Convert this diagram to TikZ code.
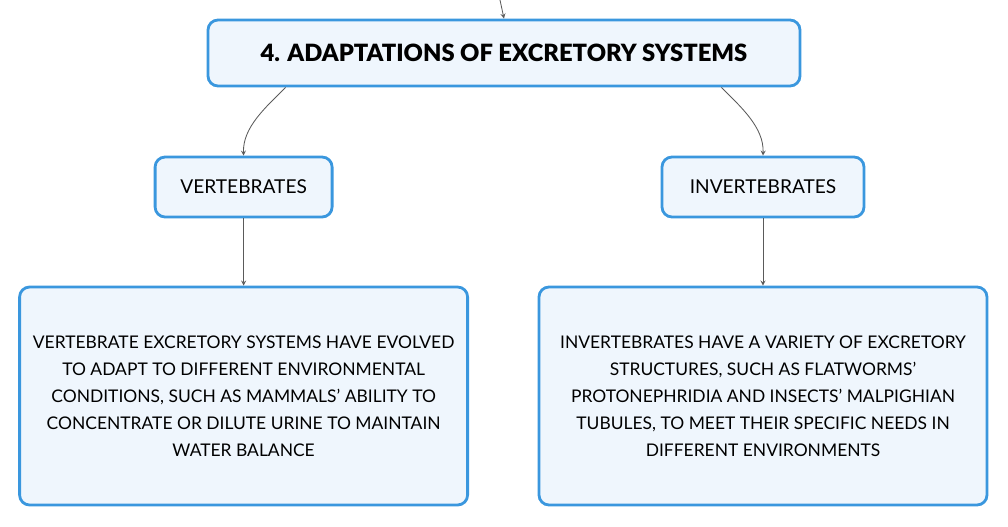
\documentclass[tikz,border=0pt]{standalone}
\usepackage{fontspec}
\setmainfont{Lato}
\newfontfamily\heavyfont{Lato Black}
\usepackage{tikz}
\usetikzlibrary{positioning,arrows,shapes}
\definecolor{edgeblue}{HTML}{3A97DE}
\definecolor{boxfill}{HTML}{EFF6FD}
\definecolor{linkgray}{HTML}{5A5A5A}
\tikzstyle{topic}=[draw=edgeblue, fill=boxfill, rounded corners=0.25cm, line width=2pt, minimum height=1.65cm, minimum width=14.8cm, font=\fontsize{16.9}{20}\selectfont\heavyfont]
\tikzstyle{sub}=[draw=edgeblue, fill=boxfill, rounded corners=0.25cm, line width=2pt, minimum height=1.5cm, font=\fontsize{13.6}{16}\selectfont]
\tikzstyle{body}=[draw=edgeblue, fill=boxfill, rounded corners=0.25cm, line width=2pt, minimum height=5.45cm, minimum width=11.2cm, align=center, font=\fontsize{12.4}{19.2}\selectfont]
\tikzstyle{link}=[->, >=stealth, draw=linkgray, line width=0.6pt]

\begin{document}
\begin{tikzpicture}[node distance=2cm]
\useasboundingbox (0,0) rectangle (25.2,-13.15);
  \node[topic] at (12.6,-1.325) (adapt) {4. ADAPTATIONS OF EXCRETORY SYSTEMS};
  \coordinate (parent) at (12.5,0);
\draw[link] (parent) -- (adapt.north);

\node[sub, minimum width=4.425cm, below of = adapt, node distance = 3.35cm, xshift=-6.51cm] (vert) {VERTEBRATES};
\node[sub, minimum width=5.05cm, below of = adapt, node distance = 3.35cm, xshift=6.475cm] (invert) {INVERTEBRATES};

\draw[link] ([xshift=1.975cm]adapt.south west) to[out=-135,in=92,looseness=0.9] (vert.north);
\draw[link] ([xshift=-2cm]adapt.south east) to[out=-45,in=88,looseness=0.9] (invert.north);

\node[body, below of = vert, node distance = 5.225cm] (vertdesc) {VERTEBRATE EXCRETORY SYSTEMS HAVE EVOLVED\\TO ADAPT TO DIFFERENT ENVIRONMENTAL\\CONDITIONS, SUCH AS MAMMALS' ABILITY TO\\CONCENTRATE OR DILUTE URINE TO MAINTAIN\\WATER BALANCE};
\node[body, below of = invert, node distance = 5.225cm] (invertdesc) {INVERTEBRATES HAVE A VARIETY OF EXCRETORY\\STRUCTURES, SUCH AS FLATWORMS'\\PROTONEPHRIDIA AND INSECTS' MALPIGHIAN\\TUBULES, TO MEET THEIR SPECIFIC NEEDS IN\\DIFFERENT ENVIRONMENTS};

\draw[link] (vert) -- (vertdesc);
\draw[link] (invert) -- (invertdesc);
\end{tikzpicture}
\end{document}
